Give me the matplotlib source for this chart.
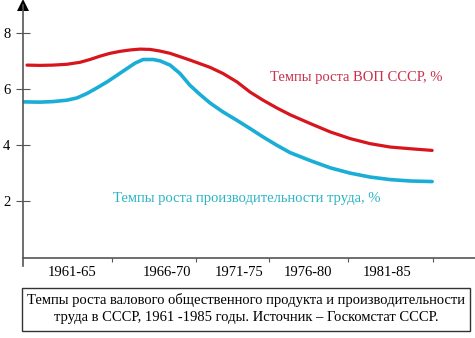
import matplotlib
matplotlib.use('Agg')
import matplotlib.pyplot as plt
import matplotlib.patches as mpatches

plt.rcParams['font.family'] = ['Liberation Serif', 'DejaVu Serif']

# Data (year, %)
years_vop = [1960.70, 1961.51, 1962.32, 1963.19, 1964.00, 1964.62, 1965.25, 1965.87,
             1966.49, 1967.12, 1967.74, 1968.36, 1968.99, 1969.61, 1970.85, 1972.10,
             1972.91, 1973.78, 1974.59, 1975.40, 1976.27, 1977.09, 1978.33, 1979.58,
             1980.83, 1982.07, 1983.32, 1984.56, 1985.93]
vop = [6.86, 6.85, 6.86, 6.89, 6.96, 7.06, 7.18, 7.28,
       7.35, 7.40, 7.43, 7.42, 7.36, 7.28, 7.04, 6.78,
       6.56, 6.26, 5.90, 5.61, 5.33, 5.09, 4.78, 4.48,
       4.24, 4.06, 3.94, 3.88, 3.82]

years_prod = [1960.45, 1961.51, 1962.32, 1963.19, 1963.81, 1964.44, 1965.06, 1965.68,
              1966.31, 1966.93, 1967.43, 1967.93, 1968.55, 1968.99, 1969.61, 1970.23,
              1970.85, 1971.48, 1972.10, 1972.91, 1973.78, 1974.59, 1975.40, 1976.27,
              1977.09, 1978.33, 1979.58, 1980.83, 1982.07, 1983.32, 1984.56, 1985.93]
prod = [5.55, 5.54, 5.56, 5.61, 5.69, 5.85, 6.05, 6.26,
        6.50, 6.74, 6.93, 7.06, 7.06, 7.01, 6.86, 6.56,
        6.14, 5.81, 5.51, 5.19, 4.89, 4.60, 4.30, 4.00,
        3.74, 3.46, 3.20, 3.01, 2.87, 2.78, 2.73, 2.71]

period_labels = ['1961-65', '1966-70', '1971-75', '1976-80', '1981-85']
label_pos = [1963.5, 1969.4, 1973.9, 1978.2, 1983.1]
tick_pos = [1966.0, 1971.2, 1975.8, 1980.7, 1986.0]
y_ticks = [2, 4, 6, 8]

RED = '#d8141c'
BLUE = '#1aaed6'

fig = plt.figure(figsize=(4.75, 3.38), dpi=100)
ax = fig.add_axes([0.0484, 0.2130, 0.9516, 0.7720])

ax.plot(years_vop, vop, color=RED, lw=2.3, solid_capstyle='round',
        solid_joinstyle='round')
ax.plot(years_prod, prod, color=BLUE, lw=2.6, solid_capstyle='round',
        solid_joinstyle='round')

ax.set_xlim(1960.45, 1988.6)
ax.set_ylim(-0.3, 9.0)

for s in ['top', 'right']:
    ax.spines[s].set_visible(False)
ax.spines['bottom'].set_position(('data', 0))
for s in ['left', 'bottom']:
    ax.spines[s].set_color('#555555')
    ax.spines[s].set_linewidth(1.2)

ax.set_yticks(y_ticks)
ax.set_yticklabels([str(v) for v in y_ticks], fontsize=10.5)
ax.tick_params(axis='y', direction='inout', length=10, width=0.8,
               color='#555555', pad=4)

ax.set_xticks(tick_pos)
ax.set_xticklabels([])
ax.tick_params(axis='x', which='major', direction='out', length=3, width=0.8,
               color='#555555')
ax.set_xticks(label_pos, minor=True)
ax.set_xticklabels(period_labels, minor=True, fontsize=10.5)
ax.tick_params(axis='x', which='minor', length=0, pad=6)

# arrow at top of y-axis
ax.plot([1960.45], [9.0], marker='^', markersize=9, color='black',
        clip_on=False, markeredgewidth=0)

ax.text(1975.84, 6.43, 'Темпы роста ВОП СССР, %', color='#c8304c',
        fontsize=10.5, va='center', ha='left')
ax.text(1966.06, 2.1, 'Темпы роста производительности труда, %', color='#2ab4c4',
        fontsize=10.5, va='center', ha='left')

# caption box
box = mpatches.Rectangle((22 / 475, 1 - 331 / 338), 448 / 475, 43 / 338,
                         transform=fig.transFigure, fill=False,
                         edgecolor='#333333', lw=1.0)
fig.patches.append(box)
fig.text(246 / 475, 1 - 300 / 338,
         'Темпы роста валового общественного продукта и производительности',
         ha='center', va='center', fontsize=10.5)
fig.text(246 / 475, 1 - 318 / 338,
         'труда в СССР, 1961 -1985 годы. Источник – Госкомстат СССР.',
         ha='center', va='center', fontsize=10.5)

fig.savefig('out.png', dpi=100)
